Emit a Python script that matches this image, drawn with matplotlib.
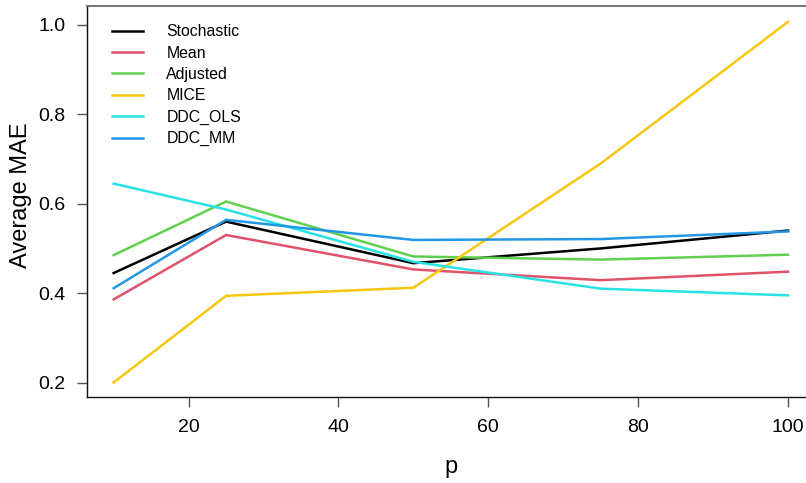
import matplotlib
matplotlib.use("Agg")
import matplotlib.pyplot as plt

plt.rcParams["font.family"] = ["Liberation Sans", "DejaVu Sans"]

p = [10, 25, 50, 75, 100]
stochastic = [0.445, 0.560, 0.467, 0.500, 0.540]
mean = [0.386, 0.530, 0.453, 0.429, 0.448]
adjusted = [0.485, 0.605, 0.482, 0.475, 0.486]
mice = [0.200, 0.394, 0.412, 0.690, 1.007]
ddc_ols = [0.645, 0.587, 0.470, 0.410, 0.395]
ddc_mm = [0.411, 0.564, 0.519, 0.521, 0.538]

series = [
    ("Stochastic", stochastic, "#000000"),
    ("Mean", mean, "#DF536B"),
    ("Adjusted", adjusted, "#61D04F"),
    ("MICE", mice, "#F5C710"),
    ("DDC_OLS", ddc_ols, "#28E2E5"),
    ("DDC_MM", ddc_mm, "#2297E6"),
]

W, H = 806, 483
fig = plt.figure(figsize=(W / 100, H / 100), dpi=100)
# plot region runs past the right edge, like the R device it came from
ax = fig.add_axes([86.7 / W, 1 - 397 / H, (815 - 86.7) / W, (397 - 6) / H])

for name, vals, col in series:
    ax.plot(p, vals, color=col, lw=1.8, label=name, solid_joinstyle="miter")

ax.set_xlim(6.4, 103.6)
ax.set_ylim(0.1676, 1.0424)
ax.set_xticks([20, 40, 60, 80, 100])
ax.set_yticks([0.2, 0.4, 0.6, 0.8, 1.0])
ax.set_yticklabels(["0.2", "0.4", "0.6", "0.8", "1.0"])
ax.tick_params(axis="both", direction="out", length=7, width=1, color="#555555",
               labelsize=14, pad=8)
ax.tick_params(axis="x", pad=9)

for side in ["left", "bottom"]:
    ax.spines[side].set_color("#111111")
    ax.spines[side].set_linewidth(1.0)
ax.spines["top"].set_color("#777777")
ax.spines["top"].set_linewidth(1.5)
ax.spines["right"].set_visible(False)

fig.text(26.7 / W, 1 - 195 / H, "Average MAE", rotation=90, rotation_mode="anchor",
         ha="center", va="baseline", fontsize=17)
fig.text(451 / W, 1 - 473 / H, "p", ha="center", va="baseline", fontsize=17)

ax.legend(loc="upper left", bbox_to_anchor=(111.7 / W, 1 - 24.3 / H),
          bbox_transform=fig.transFigure, frameon=False, fontsize=11.4,
          handlelength=1.95, handletextpad=1.5, labelspacing=0.4,
          borderpad=0, borderaxespad=0)

fig.savefig("out.png", dpi=100)
